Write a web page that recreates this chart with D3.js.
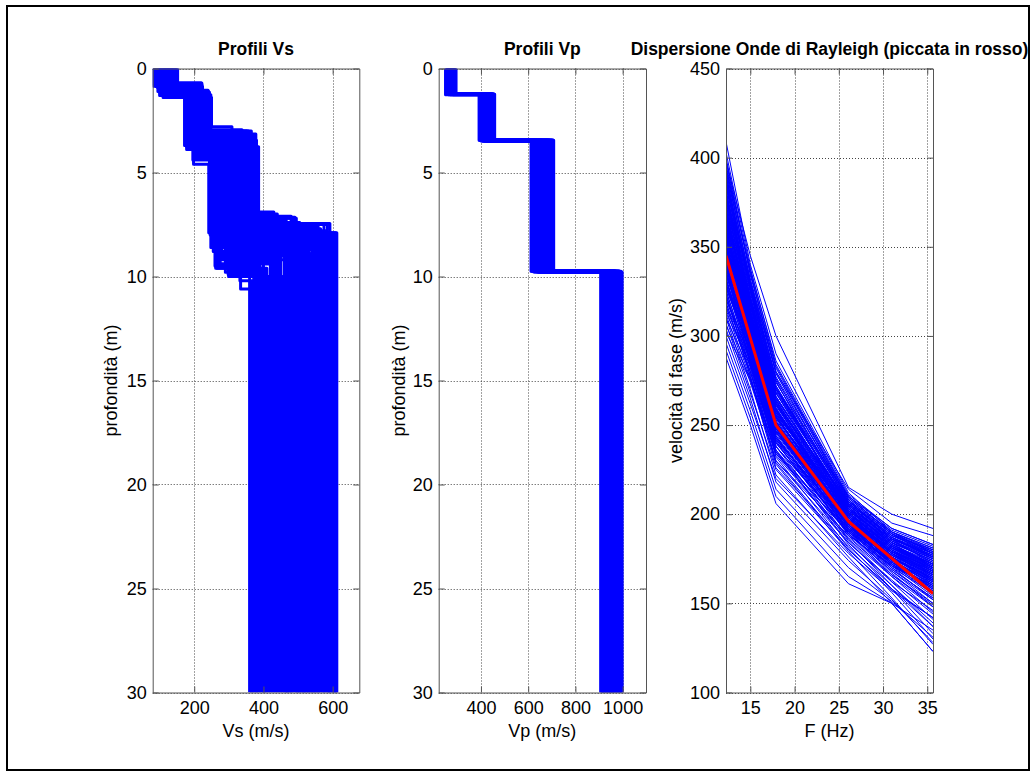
<!DOCTYPE html>
<html><head><meta charset="utf-8">
<script src="https://cdn.jsdelivr.net/npm/d3@7"></script>
<style>
html,body{margin:0;padding:0;background:#fff;}
svg{display:block;}
text{font-family:"Liberation Sans",Arial,Helvetica,sans-serif;}
</style></head><body>
<svg id="chart" width="1031" height="772"></svg>
<script>
// ---------------- DATA ----------------
// Panel 1: Vs profiles (4 layers), velocities (m/s) and layer-bottom depths (m)
const vs1 = [82,88,95,100,105,110,115,120,125,130,135,140,145,152,118,128,98,108,138,112,92,132,122,142,102,126,148,116,136,106,86,144,124,96,134,114,146,104,150,90,
             84,93,99,103,107,111,113,117,119,121,123,127,129,131,133,137,139,141,143,147,149,151,109,97,89,85,101,125,135,115];
const z1  = [0.85,0.80,1.10,1.30,1.25,1.40,1.35,1.40,1.20,1.05,0.95,0.80,0.75,0.70,1.15,1.28,0.95,1.18,1.06,1.22,0.88,1.12,1.32,0.90,1.05,1.08,0.78,1.38,1.10,1.02,0.82,0.86,1.26,0.92,1.14,1.30,0.84,1.12,0.72,0.86,
             0.78,0.90,1.00,1.20,1.28,1.34,1.16,1.24,1.36,1.10,1.30,1.18,1.02,1.22,0.96,1.08,0.92,1.14,0.82,0.76,0.74,0.70,1.06,0.88,0.84,0.80,1.18,1.32,1.04,1.26];
const vs2 = [190,205,178,215,172,230,198,250,185,240,222,210,220,222,200,245,182,195,235,212,188,228,202,224,176,218,218,208,242,192,180,224,248,196,214,236,220,186,216,174,
             184,194,206,226,180,240,204,232,190,216,246,200,224,212,222,238,218,244,214,222,208,220,186,178,192,176,210,236,224,198];
const z2  = [3.2,3.5,3.9,3.0,3.7,3.0,4.6,2.8,3.4,3.2,3.76,3.6,3.1,3.3,4.2,3.0,3.8,3.5,3.3,3.4,3.65,3.05,4.0,3.15,3.55,3.45,3.25,3.7,2.95,3.85,3.35,3.5,3.1,4.4,3.58,3.2,3.4,3.75,3.2,3.45,
             3.3,3.6,3.4,3.1,3.8,3.0,4.1,3.25,3.6,3.5,3.2,3.9,3.35,3.7,3.45,3.1,3.55,3.05,3.3,3.6,3.4,3.15,3.65,3.75,3.5,3.2,3.85,3.2,3.4,4.3];
const vs3 = [300,320,255,340,262,357,242,309,300,372,386,334,290,350,270,365,248,290,330,310,275,345,258,378,268,322,355,295,338,262,280,368,315,246,328,348,305,300,362,278,
             285,252,318,336,260,352,265,342,300,312,370,250,325,298,380,332,288,360,340,375,320,345,272,266,292,332,256,335,350,244];
const z3  = [8.4,7.6,8.8,7.2,9.6,7.0,7.9,7.45,10.0,6.9,7.15,10.6,8.2,8.0,9.2,7.5,8.6,9.8,8.0,9.0,9.4,7.5,8.3,7.1,9.4,8.7,7.7,9.3,8.1,9.5,8.9,7.5,8.5,8.0,9.8,8.1,8.4,10.0,7.4,9.1,
             8.6,8.5,9.0,7.8,9.5,7.3,8.9,7.9,9.7,8.4,7.2,8.2,8.8,9.9,7.15,7.95,8.6,7.5,8.3,7.45,9.2,7.9,9.0,9.6,8.7,10.2,8.4,8.0,7.6,7.9];
const vs4 = [470,540,380,495,410,440,612,592,455,430,491,365,560,605,520,575,400,385,600,515,360,585,470,480,420,550,565,445,530,372,500,545,590,460,395,610,525,415,505,450,
             435,505,475,580,390,465,535,595,405,555,485,570,510,378,465,602,540,520,575,498,425,608,480,402,515,368,548,588,558,530];

// Panel 2: Vp profiles
const vp1 = [252,268,281,259,290,274,263,286,256,278,270,294,261,283,266,288,254,276,272,291,258,280,265,285,250,273,268,289,262,279,257,284,271,293,260,277,267,287,255,275];
const zp1 = [1.22,1.24,1.23,1.25,1.21,1.24,1.26,1.22,1.23,1.25,1.24,1.22,1.23,1.26,1.21,1.24,1.25,1.23,1.22,1.24,1.23,1.25,1.22,1.24,1.26,1.23,1.21,1.24,1.25,1.22,1.23,1.24,1.26,1.22,1.25,1.23,1.24,1.21,1.25,1.23];
const vp2 = [395,420,448,410,436,428,402,455,415,440,392,432,424,450,406,444,418,438,398,458,412,430,446,404,426,452,400,434,416,442,422,456,408,437,414,449,396,428,441,419];
const zp2 = [3.45,3.47,3.44,3.48,3.46,3.45,3.49,3.44,3.47,3.46,3.45,3.48,3.44,3.46,3.47,3.45,3.49,3.46,3.44,3.48,3.45,3.47,3.46,3.44,3.48,3.45,3.47,3.46,3.49,3.44,3.46,3.45,3.48,3.47,3.44,3.46,3.45,3.48,3.47,3.46];
const vp3 = [615,660,698,640,685,625,672,705,650,690,612,665,680,630,700,655,645,693,620,675,708,636,668,688,628,658,696,642,678,618,662,703,648,683,633,670,692,624,653,687];
const zp3 = [9.75,9.77,9.74,9.78,9.76,9.75,9.79,9.74,9.77,9.76,9.75,9.78,9.74,9.76,9.77,9.75,9.79,9.76,9.74,9.78,9.75,9.77,9.76,9.74,9.78,9.75,9.77,9.76,9.79,9.74,9.76,9.75,9.78,9.77,9.74,9.76,9.75,9.78,9.77,9.76];
const vp4 = [910,955,985,930,970,920,995,945,960,915,980,938,965,907,990,950,925,975,942,998,912,958,934,968,918,988,948,928,978,962,940,993,922,952,972,932,983,914,957,947];

// Panel 3: dispersion curves (phase velocity m/s at each frequency)
const freqs = [12.25, 15, 17.9, 26.1, 31, 35.65];
const dispCurves = [
 [409,340,290,212,190,178],[400,335,282,208,186,172],[395,330,276,206,184,170],[392,332,280,214,195,188],
 [388,325,271,204,182,168],[385,322,268,201,180,166],[383,328,275,199,178,163],[380,320,265,205,187,176],
 [378,318,262,198,176,161],[376,322,270,210,192,183],[374,315,260,196,174,158],[372,312,258,200,181,169],
 [370,318,266,203,183,171],[368,310,256,194,172,155],[367,314,262,207,189,179],[365,308,254,197,177,163],
 [363,311,259,199,179,165],[362,305,252,192,170,152],[360,309,257,202,184,174],[358,303,250,195,175,160],
 [357,306,255,198,178,164],[355,300,248,190,167,148],[354,304,256,204,186,177],[352,298,246,193,173,157],
 [350,302,253,197,176,162],[349,296,244,188,165,145],[347,300,251,200,182,170],[346,294,243,191,171,154],
 [344,297,249,196,177,165],[342,292,241,186,162,141],[341,295,247,194,174,160],[339,290,240,189,168,150],
 [338,293,246,199,181,172],[336,288,238,185,160,137],[335,291,244,193,172,158],[333,286,236,183,158,133],
 [331,289,242,195,178,167],[330,284,234,187,166,149],[328,287,240,190,170,156],[326,282,232,181,156,130],
 [325,285,238,192,175,164],[323,280,230,184,163,144],[321,283,236,189,169,153],[319,278,228,179,153,127],
 [317,280,233,186,165,148],[315,276,226,182,160,139],[312,274,230,188,171,160],[310,270,222,176,150,123],
 [307,268,225,180,158,137],[304,265,218,174,152,128],[300,262,220,178,157,142],[296,258,214,170,151,131],
 [292,254,210,165,150,135],[288,250,206,161,150,123],[398,345,300,215,200,192],[386,318,262,194,171,157],
 [371,306,251,189,166,150],[359,312,263,206,188,180],[351,306,258,202,185,175],[343,301,254,203,186,178],
 [334,298,250,198,180,169],[327,292,246,196,179,170],[320,289,242,194,177,166],[313,284,238,191,174,162],
 [377,314,259,195,173,159],[361,301,249,191,169,153],[348,293,242,189,168,152],[337,285,235,184,162,146],
 [324,277,229,180,158,142],[306,276,234,190,173,163],[390,328,272,203,183,170],[382,319,263,200,179,166],
 [375,317,264,201,181,168],[369,313,261,199,180,167],[364,307,255,196,176,162],[356,303,252,197,178,165],
 [353,299,250,194,174,161],[345,296,248,195,176,163],[340,294,246,193,173,159],[332,290,243,192,172,158],
 [396,336,279,207,187,175],[387,326,270,205,185,173],[379,321,266,202,182,169],[366,311,258,200,182,171],
 [357,308,257,199,180,168],[349,304,254,201,183,172],[339,297,249,197,179,167],[329,291,245,194,176,164],
 [318,286,241,193,175,165],[403,338,284,210,189,176],
 [398,334,283,209,190,180],[393,331,279,208,189,179],[389,329,276,207,188,178],[384,327,274,206,188,178],
 [381,324,272,206,187,177],[377,321,269,205,186,176],[373,319,268,205,186,176],[369,316,266,204,185,175],
 [366,314,264,203,184,174],[362,312,262,203,184,174],[359,310,261,202,183,173],[355,308,259,201,182,172],
 [352,306,258,201,182,172],[348,304,257,200,181,171],[345,302,255,200,181,170],[341,300,254,199,180,169],
 [338,298,252,198,179,168],[334,296,251,198,179,168],[331,294,250,197,178,167],[327,292,248,196,177,166],
 [394,337,286,211,192,183],[386,330,280,210,191,182],[379,326,277,209,190,181],[371,322,274,208,190,181],
 [364,318,271,207,189,180],[356,314,268,206,188,179],[349,310,265,205,187,178],[342,306,262,204,186,177],
 [335,302,259,203,185,176],[328,298,256,202,184,175],[391,326,270,203,183,172],[380,318,264,201,181,170],
 [368,312,259,199,179,168],[358,306,255,198,178,166],[346,299,251,196,176,164],[336,293,247,195,175,163],
 [322,287,243,194,174,162],[316,283,240,192,173,161],[310,280,238,191,172,160],[302,275,235,190,171,159]
];
// picked (red) curve
const pickF = [12.25, 17.9, 26.1, 35.65];
const pickV = [345, 250, 196, 155.5];

// tick values
const depthTicks = [0,5,10,15,20,25,30];
const vsTicks = [200,400,600];
const vpTicks = [400,600,800,1000];
const fTicks = [15,20,25,30,35];
const velTicks = [100,150,200,250,300,350,400,450];

// ---------------- DRAW ----------------
const svg = d3.select('#chart');
svg.append('rect').attr('x',0).attr('y',0).attr('width',1031).attr('height',772).attr('fill','#fff');
svg.append('rect').attr('x',7).attr('y',6).attr('width',1022).attr('height',764)
  .attr('fill','none').attr('stroke','#000').attr('stroke-width',2);

const TOP = 68.5, BOTTOM = 692.5;
const FS = 18, TFS = 17.5;
const axisColor = '#555';

function makePanel(cfg){
  const g = svg.append('g');
  const x = d3.scaleLinear().domain(cfg.xDomain).range([cfg.left, cfg.right]);
  const y = d3.scaleLinear().domain(cfg.yDomain).range(cfg.yRange);
  const clipId = 'clip' + cfg.id;
  svg.append('clipPath').attr('id', clipId).append('rect')
    .attr('x', cfg.left).attr('y', TOP).attr('width', cfg.right - cfg.left).attr('height', BOTTOM - TOP);
  // grid
  const grid = g.append('g').attr('stroke','#444').attr('stroke-width',1).attr('stroke-dasharray','1,2');
  grid.selectAll('line.gx').data(cfg.xTicks).join('line').attr('class','gx')
    .attr('x1', d=>Math.round(x(d))+0.5).attr('x2', d=>Math.round(x(d))+0.5)
    .attr('y1', TOP).attr('y2', BOTTOM);
  grid.selectAll('line.gy').data(cfg.yTicks).join('line').attr('class','gy')
    .attr('y1', d=>Math.round(y(d))+0.5).attr('y2', d=>Math.round(y(d))+0.5)
    .attr('x1', cfg.left).attr('x2', cfg.right);
  const data = g.append('g').attr('clip-path', `url(#${clipId})`);
  // axes
  const style = (sel) => {
    sel.select('.domain').attr('stroke', axisColor);
    sel.selectAll('.tick line').attr('stroke', axisColor);
    sel.selectAll('text').attr('fill','#000').attr('font-size', FS)
      .attr('font-family','"Liberation Sans", Arial, Helvetica, sans-serif');
    sel.attr('font-size', FS).attr('font-family', null);
  };
  const ax = svg.append('g');
  ax.append('g').attr('transform',`translate(0,${BOTTOM})`)
    .call(d3.axisBottom(x).tickValues(cfg.xTicks).tickSize(-6).tickSizeOuter(0).tickPadding(9).tickFormat(d3.format('d'))).call(style);
  ax.append('g').attr('transform',`translate(0,${TOP})`)
    .call(d3.axisTop(x).tickValues(cfg.xTicks).tickSize(-6).tickSizeOuter(0).tickFormat('')).call(style);
  ax.append('g').attr('transform',`translate(${cfg.left},0)`)
    .call(d3.axisLeft(y).tickValues(cfg.yTicks).tickSize(-6).tickSizeOuter(0).tickPadding(6).tickFormat(d3.format('d'))).call(style);
  ax.append('g').attr('transform',`translate(${cfg.right},0)`)
    .call(d3.axisRight(y).tickValues(cfg.yTicks).tickSize(-6).tickSizeOuter(0).tickFormat('')).call(style);
  // titles & labels
  const cx = (cfg.left + cfg.right)/2;
  svg.append('text').attr('x', cx).attr('y', 55).attr('text-anchor','middle')
    .attr('font-size', TFS).attr('font-weight','bold').text(cfg.title);
  svg.append('text').attr('x', cx).attr('y', 736.5).attr('text-anchor','middle')
    .attr('font-size', FS).text(cfg.xlabel);
  svg.append('text').attr('transform', `translate(${cfg.ylabelX},${(TOP+BOTTOM)/2}) rotate(-90)`)
    .attr('text-anchor','middle').attr('font-size', FS).text(cfg.ylabel);
  return {x, y, data};
}

function stepPts(v, z){ // v: 4 velocities, z: 3 interface depths
  return [[v[0],0],[v[0],z[0]],[v[1],z[0]],[v[1],z[1]],[v[2],z[1]],[v[2],z[2]],[v[3],z[2]],[v[3],30]];
}

// Panel 1
const p1 = makePanel({id:1, left:152.7, right:359.3, xDomain:[80,677], yDomain:[0,30], yRange:[TOP,BOTTOM],
  xTicks: vsTicks, yTicks: depthTicks, title:'Profili Vs', xlabel:'Vs (m/s)', ylabel:'profondità (m)', ylabelX:117});
const vsProfiles = vs1.map((d,i)=>stepPts([vs1[i],vs2[i],vs3[i],vs4[i]],[z1[i],z2[i],z3[i]]));
const line1 = d3.line().x(d=>p1.x(d[0])).y(d=>p1.y(d[1]));
p1.data.selectAll('path').data(vsProfiles).join('path')
  .attr('d', line1).attr('fill','none').attr('stroke','#0000ff').attr('stroke-width',3)
  .attr('stroke-linejoin','round');

// Panel 2
const p2 = makePanel({id:2, left:438.7, right:646, xDomain:[221,1099], yDomain:[0,30], yRange:[TOP,BOTTOM],
  xTicks: vpTicks, yTicks: depthTicks, title:'Profili Vp', xlabel:'Vp (m/s)', ylabel:'profondità (m)', ylabelX:405});
const vpProfiles = vp1.map((d,i)=>stepPts([vp1[i],vp2[i],vp3[i],vp4[i]],[zp1[i],zp2[i],zp3[i]]));
const line2 = d3.line().x(d=>p2.x(d[0])).y(d=>p2.y(d[1]));
p2.data.selectAll('path').data(vpProfiles).join('path')
  .attr('d', line2).attr('fill','none').attr('stroke','#0000ff').attr('stroke-width',3)
  .attr('stroke-linejoin','round');

// Panel 3
const p3 = makePanel({id:3, left:726, right:933, xDomain:[12.25,35.65], yDomain:[100,450], yRange:[BOTTOM,TOP],
  xTicks: fTicks, yTicks: velTicks, title:'Dispersione Onde di Rayleigh (piccata in rosso)', xlabel:'F (Hz)', ylabel:'velocità di fase (m/s)', ylabelX:682});
const line3 = d3.line().x((d,i)=>p3.x(freqs[i])).y(d=>p3.y(d));
p3.data.selectAll('path.c').data(dispCurves).join('path').attr('class','c')
  .attr('d', line3).attr('fill','none').attr('stroke','#0000ff').attr('stroke-width',1);
const redLine = d3.line().x((d,i)=>p3.x(pickF[i])).y(d=>p3.y(d));
p3.data.append('path').datum(pickV).attr('d', redLine).attr('fill','none')
  .attr('stroke','#ff0000').attr('stroke-width',3);
</script>
</body></html>
